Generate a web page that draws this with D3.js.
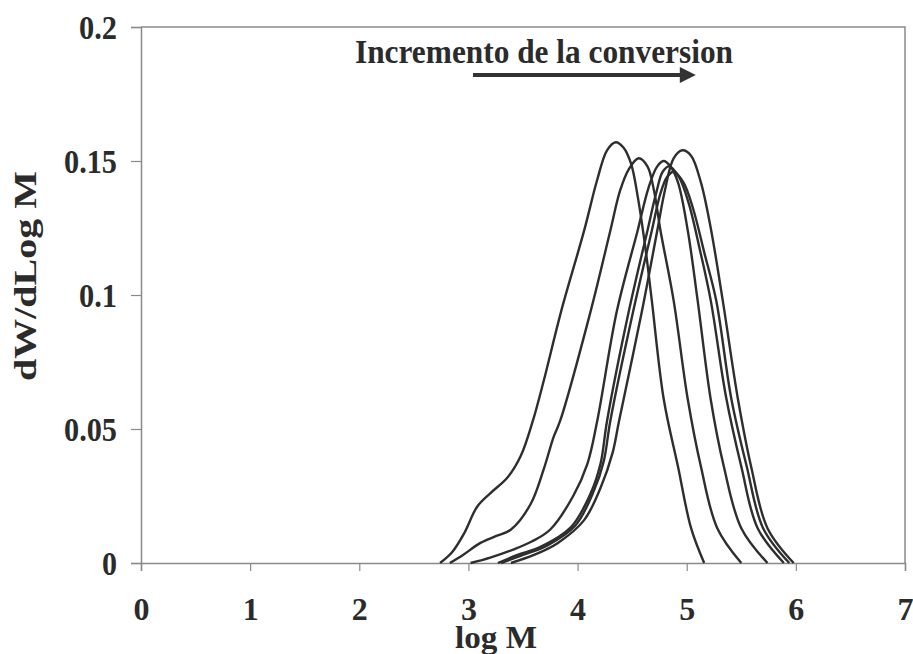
<!DOCTYPE html>
<html>
<head>
<meta charset="utf-8">
<script src="https://cdn.jsdelivr.net/npm/d3@7"></script>
<style>
  body { margin: 0; background: #fff; }
  text { font-family: "Liberation Serif", "Times New Roman", serif; font-weight: bold; fill: #2b2b2b; }
</style>
</head>
<body>
<div id="container"></div>
<script>
// x ticks (log M) and y ticks (dW/dLog M)
const xTicks = [0, 1, 2, 3, 4, 5, 6, 7];
const yTicks = [0, 0.05, 0.1, 0.15, 0.2];
const yTickLabels = ["0", "0.05", "0.1", "0.15", "0.2"];

// six distributions as [log M, dW/dLog M]
const curveA = [[2.74,0],[2.85,0.004],[2.96,0.011],[3.08,0.021],[3.2,0.026],[3.36,0.032],[3.48,0.04],[3.59,0.053],[3.69,0.068],[3.85,0.094],[4.06,0.124],[4.18,0.143],[4.27,0.154],[4.35,0.157],[4.42,0.155],[4.49,0.149],[4.55,0.137],[4.62,0.118],[4.68,0.098],[4.79,0.061],[4.92,0.036],[5.04,0.013],[5.16,0]];
const curveB = [[2.83,0],[2.95,0.003],[3.11,0.0075],[3.25,0.01],[3.39,0.0125],[3.57,0.022],[3.69,0.035],[3.78,0.047],[3.84,0.053],[4.12,0.094],[4.3,0.124],[4.39,0.139],[4.47,0.147],[4.56,0.151],[4.64,0.148],[4.7,0.139],[4.76,0.124],[4.88,0.098],[5.01,0.061],[5.13,0.036],[5.28,0.013],[5.5,0]];
const curveC = [[3.02,0],[3.2,0.002],[3.41,0.005],[3.58,0.008],[3.75,0.0125],[3.96,0.025],[4.09,0.037],[4.18,0.053],[4.36,0.094],[4.55,0.124],[4.65,0.14],[4.73,0.148],[4.79,0.15],[4.85,0.148],[4.92,0.142],[5.01,0.124],[5.1,0.098],[5.22,0.061],[5.34,0.036],[5.5,0.013],[5.74,0]];
const curveD = [[3.27,0],[3.45,0.003],[3.66,0.006],[3.94,0.0134],[4.12,0.026],[4.21,0.037],[4.27,0.053],[4.47,0.094],[4.64,0.124],[4.72,0.138],[4.78,0.146],[4.84,0.148],[4.93,0.144],[5.02,0.134],[5.12,0.117],[5.22,0.098],[5.36,0.062],[5.5,0.036],[5.65,0.013],[5.89,0]];
const curveE = [[3.3,0],[3.5,0.003],[3.72,0.0065],[3.98,0.014],[4.15,0.027],[4.24,0.038],[4.3,0.053],[4.51,0.094],[4.68,0.124],[4.76,0.138],[4.82,0.144],[4.88,0.146],[4.97,0.142],[5.06,0.132],[5.16,0.116],[5.27,0.098],[5.41,0.061],[5.55,0.036],[5.7,0.013],[5.94,0]];
const curveF = [[3.39,0],[3.6,0.003],[3.82,0.0075],[4.06,0.016],[4.21,0.028],[4.32,0.041],[4.38,0.053],[4.59,0.094],[4.73,0.124],[4.8,0.139],[4.88,0.151],[4.96,0.154],[5.04,0.152],[5.13,0.142],[5.22,0.125],[5.33,0.098],[5.47,0.061],[5.59,0.036],[5.74,0.013],[5.98,0]];
const curves = [curveA, curveB, curveC, curveD, curveE, curveF];

const titleText = "Incremento de la conversion";
const xLabel = "log M";
const yLabel = "dW/dLog M";

const w = 913;
const h = 654;
const plotLeft = 141, plotRight = 905, plotTop = 27, plotBottom = 563;

const svg = d3.select("#container")
  .append("svg")
  .attr("width", w)
  .attr("height", h);

const xScale = d3.scaleLinear().domain([0, 7]).range([plotLeft, plotRight]);
const yScale = d3.scaleLinear().domain([0, 0.2]).range([plotBottom, plotTop]);

// plot frame (top and right edges)
svg.append("path")
  .attr("d", `M${plotLeft},${plotTop}H${plotRight}V${plotBottom}`)
  .attr("fill", "none")
  .attr("stroke", "#8a8a8a")
  .attr("stroke-width", 1.5);

const xAxis = d3.axisBottom(xScale).tickValues(xTicks).tickSize(8).tickPadding(27)
  .tickFormat(d3.format("d"));
const yAxis = d3.axisLeft(yScale).tickValues(yTicks).tickSize(10).tickPadding(14)
  .tickFormat((d, i) => yTickLabels[i]);

const gx = svg.append("g")
  .attr("transform", `translate(0, ${plotBottom})`)
  .call(xAxis);

const gy = svg.append("g")
  .attr("transform", `translate(${plotLeft}, 0)`)
  .call(yAxis);

[gx, gy].forEach(g => {
  g.select(".domain").attr("stroke", "#8a8a8a").attr("stroke-width", 1.5);
  g.selectAll(".tick line").attr("stroke", "#8a8a8a").attr("stroke-width", 1.2);
  g.selectAll(".tick text")
    .style("font-family", '"Liberation Serif", serif')
    .style("font-weight", "bold")
    .attr("fill", "#2b2b2b");
});
gx.selectAll(".tick text")
  .style("font-size", "31px")
  .attr("textLength", 16)
  .attr("lengthAdjust", "spacingAndGlyphs");
// taller, slightly condensed figures like the scanned original
gy.selectAll(".tick text")
  .style("font-size", "34px")
  .attr("dy", "0.33em")
  .attr("textLength", function () {
    const s = this.textContent;
    return s.replace(/\./g, "").length * 15 + (s.includes(".") ? 8 : 0);
  })
  .attr("lengthAdjust", "spacingAndGlyphs");

const line = d3.line()
  .x(d => xScale(d[0]))
  .y(d => yScale(d[1]))
  .curve(d3.curveCatmullRom.alpha(0.5));

svg.selectAll("path.dist")
  .data(curves)
  .enter()
  .append("path")
  .attr("class", "dist")
  .attr("d", line)
  .attr("fill", "none")
  .attr("stroke", "#2e2e2e")
  .attr("stroke-width", 2.4);

// annotation
svg.append("text")
  .attr("x", 355)
  .attr("y", 63)
  .attr("textLength", 378)
  .attr("lengthAdjust", "spacingAndGlyphs")
  .style("font-size", "33px")
  .text(titleText);

svg.append("defs").append("marker")
  .attr("id", "head")
  .attr("viewBox", "0 0 10 10")
  .attr("refX", 2)
  .attr("refY", 5)
  .attr("markerWidth", 4.5)
  .attr("markerHeight", 4)
  .attr("orient", "auto")
  .attr("markerUnits", "strokeWidth")
  .append("path")
  .attr("d", "M0,0L10,5L0,10Z")
  .attr("fill", "#333");

svg.append("line")
  .attr("x1", 473)
  .attr("x2", 683)
  .attr("y1", 75)
  .attr("y2", 75)
  .attr("stroke", "#333")
  .attr("stroke-width", 4)
  .attr("marker-end", "url(#head)");

svg.append("text")
  .attr("x", 496)
  .attr("y", 648)
  .attr("text-anchor", "middle")
  .attr("textLength", 82)
  .attr("lengthAdjust", "spacingAndGlyphs")
  .style("font-size", "31px")
  .text(xLabel);

svg.append("text")
  .attr("transform", "translate(36, 276) rotate(-90)")
  .attr("text-anchor", "middle")
  .attr("textLength", 210)
  .attr("lengthAdjust", "spacingAndGlyphs")
  .style("font-size", "32px")
  .text(yLabel);
</script>
</body>
</html>
